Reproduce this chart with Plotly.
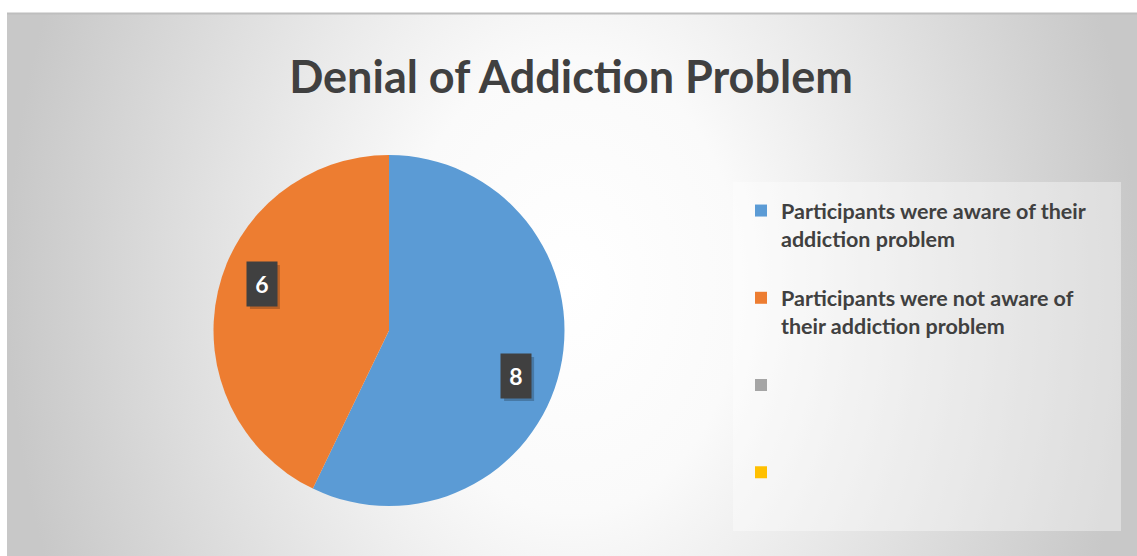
import numpy as np
import plotly.graph_objects as go

W, H = 1137, 556

# ---- data ----
categories = [
    "Participants were aware of their<br>addiction problem",
    "Participants were not aware of<br>their addiction problem",
    "",
    " ",
]
values = [8, 6, 0, 0]
colors = ["#5B9BD5", "#ED7D31", "#A5A5A5", "#FFC000"]
title_text = "Denial of Addiction Problem"

TEXT = "#404040"
BASE = 21.6   # legend base size -> line spacing
VIS = 21.5    # visible legend text size


def legend_label(lbl):
    lines = lbl.split("<br>")
    while len(lines) < 2:
        lines.append(" ")
    lines.append(" ")
    return "<br>".join(f"<span style='font-size:{VIS}px'>{l if l else ' '}</span>" for l in lines)


labels = [legend_label(c) + ("\u200b" * i) for i, c in enumerate(categories)]


def px(x):
    return x / W


def py(y):
    return 1 - y / H


fig = go.Figure()

# chart-area background (radial gradient)
fig.add_trace(go.Scatter(
    x=[0, 1, 1, 0, 0], y=[-0.9, -0.9, 1.9, 1.9, -0.9],
    mode="lines", line=dict(width=0), fill="toself",
    fillgradient=dict(type="radial",
                      colorscale=[[0, "#FFFFFF"], [0.3, "#FAFAFA"], [1, "#C8C8C8"]]),
    hoverinfo="skip", showlegend=False,
))

# pie geometry (paper)
pie_x = [px(213), px(565)]
pie_y = [py(506), py(155)]

fig.add_trace(go.Pie(
    labels=labels, values=values, sort=False, direction="clockwise", rotation=0,
    marker=dict(colors=colors, line=dict(width=0)),
    textinfo="none", hoverinfo="label+value",
    domain=dict(x=pie_x, y=pie_y),
    showlegend=True,
))

shapes = [
    # legend panel
    dict(type="rect", xref="paper", yref="paper", x0=px(733), x1=px(1121),
         y0=py(531), y1=py(182), fillcolor="rgba(255,255,255,0.38)", line=dict(width=0),
         layer="above"),
    # top edge of chart area
    dict(type="line", xref="paper", yref="paper", x0=px(7), x1=1, y0=py(13.5), y1=py(13.5),
         line=dict(color="#BEBEBE", width=2)),
]

# data labels derived from the values
cx, cy = 389, 330
R = 175.5
ANG_OFF = np.deg2rad(7)
BW, BH = 30, 44
tot = sum(values)
cum = np.cumsum([0] + values[:-1])
anns = []
for v, c0 in zip(values, cum):
    if v <= 0:
        continue
    mid = (c0 + v / 2) / tot * 2 * np.pi + ANG_OFF
    lx = cx + 0.77 * R * np.sin(mid)
    ly = cy - 0.77 * R * np.cos(mid)
    shapes.append(dict(type="rect", xref="paper", yref="paper",
                       x0=px(lx - BW / 2 + 3), x1=px(lx + BW / 2 + 3),
                       y0=py(ly + BH / 2 + 3), y1=py(ly - BH / 2 + 3),
                       fillcolor="rgba(0,0,0,0.22)", line=dict(width=0), layer="above"))
    anns.append(dict(x=px(lx), y=py(ly), xref="paper", yref="paper",
                     xanchor="center", yanchor="middle",
                     text=f"<b>{v}</b>", showarrow=False, width=BW, height=BH,
                     bgcolor="#404040", borderpad=0,
                     font=dict(family="Lato", size=23, color="white")))

fig.update_layout(
    width=W, height=H,
    margin=dict(l=0, r=0, t=0, b=0),
    paper_bgcolor="white", plot_bgcolor="rgba(0,0,0,0)",
    xaxis=dict(domain=[px(7), 1], range=[0, 1], visible=False, fixedrange=True),
    yaxis=dict(domain=[0, py(13)], range=[0, 1], visible=False, fixedrange=True),
    title=dict(text=f"<b>{title_text}</b>", x=px(571), y=py(77), xref="paper", yref="paper",
               xanchor="center", yanchor="middle",
               font=dict(family="Lato", size=45, color=TEXT)),
    legend=dict(x=px(741), y=py(190), xanchor="left", yanchor="top",
                bgcolor="rgba(0,0,0,0)", valign="top", traceorder="normal",
                font=dict(family="Lato", size=BASE, color=TEXT, weight="bold")),
    annotations=anns,
    shapes=shapes,
    showlegend=True,
)

fig.write_html("out.html")
